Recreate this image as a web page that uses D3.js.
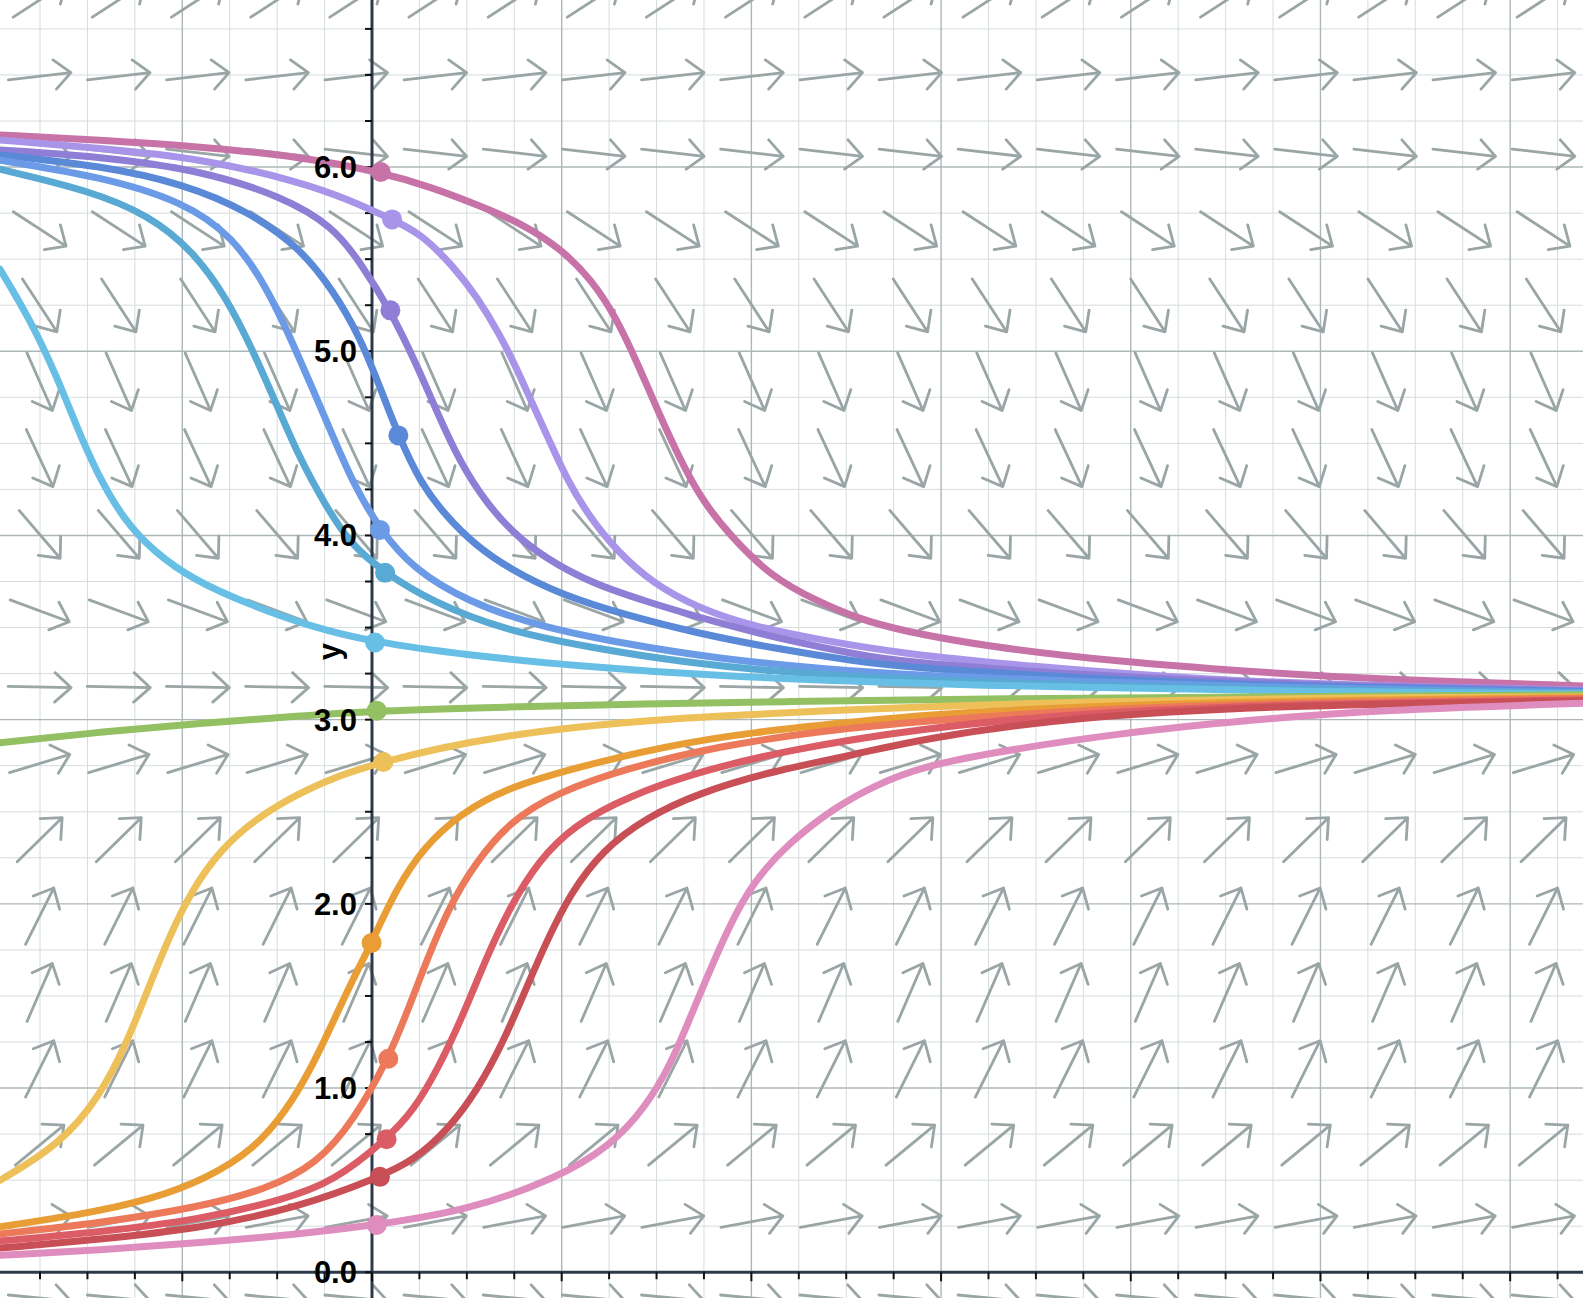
<!DOCTYPE html>
<html><head><meta charset="utf-8">
<script src="https://cdn.jsdelivr.net/npm/d3@7"></script>
<style>html,body{margin:0;padding:0;background:#fff;overflow:hidden}</style>
</head><body>
<svg id="chart" width="1583" height="1298"></svg>
<script>
// ---------- data ----------
const tDomain = [-1.961, 6.384];
const yDomain = [-0.1398, 6.907];
const yTickValues = [0, 1, 2, 3, 4, 5, 6];
const yTickLabels = ["0.0", "1.0", "2.0", "3.0", "4.0", "5.0", "6.0"];
const yAxisLabel = "y";

// slope field grid (data units) and slope per row (dy/dt read from the arrows)
const fieldT = [-1.752, -1.335, -0.918, -0.500, -0.083, 0.334, 0.752, 1.169, 1.586, 2.003,
                2.421, 2.838, 3.255, 3.672, 4.090, 4.507, 4.924, 5.341, 5.758, 6.176];
const fieldY = [6.907, 6.493, 6.078, 5.664, 5.249, 4.835, 4.420, 4.006, 3.591, 3.177,
                2.762, 2.348, 1.933, 1.519, 1.104, 0.690, 0.275, -0.140];
const fieldSlope = [0.67, 0.12, -0.12, -0.67, -1.58, -2.34, -2.21, -1.20, -0.38, -0.02,
                    0.31, 1.01, 2.06, 2.37, 2.06, 0.85, 0.19, -0.10];

// solution curves: [t, y]
const curveMauve = [[-1.961,6.174],[-1.434,6.147],[-0.907,6.111],[-0.380,6.057],[0.046,5.973],[0.313,5.891],[0.558,5.794],[0.784,5.697],[0.991,5.561],[1.160,5.387],[1.292,5.174],[1.405,4.922],[1.518,4.650],[1.631,4.398],[1.744,4.185],[1.895,3.991],[2.102,3.778],[2.347,3.642],[2.573,3.545],[2.783,3.485],[3.243,3.396],[3.932,3.315],[4.620,3.261],[5.309,3.219],[6.384,3.183]];
const curveLavender = [[-1.961,6.147],[-1.434,6.102],[-0.907,6.048],[-0.380,5.921],[-0.116,5.821],[0.106,5.716],[0.257,5.639],[0.426,5.465],[0.558,5.290],[0.671,5.096],[0.765,4.902],[0.840,4.728],[0.935,4.515],[1.029,4.301],[1.142,4.107],[1.292,3.914],[1.481,3.739],[1.726,3.603],[2.008,3.506],[2.385,3.429],[2.783,3.360],[3.472,3.288],[4.391,3.216],[5.309,3.183],[6.384,3.161]];
const curvePurple = [[-1.961,6.093],[-1.434,6.057],[-0.907,5.984],[-0.468,5.839],[-0.204,5.676],[-0.063,5.484],[0.097,5.222],[0.238,4.922],[0.351,4.650],[0.464,4.398],[0.596,4.185],[0.746,4.010],[0.916,3.875],[1.160,3.739],[1.443,3.642],[1.820,3.526],[2.196,3.429],[2.573,3.351],[2.783,3.315],[3.702,3.243],[4.850,3.189],[6.384,3.157]];
const curveBlue = [[-1.961,6.066],[-1.434,6.008],[-0.995,5.910],[-0.643,5.756],[-0.380,5.561],[-0.204,5.329],[-0.063,5.077],[0.042,4.806],[0.139,4.543],[0.257,4.282],[0.389,4.107],[0.539,3.952],[0.727,3.817],[0.991,3.681],[1.349,3.564],[1.726,3.467],[2.102,3.390],[2.573,3.313],[2.783,3.288],[3.702,3.225],[4.850,3.180],[6.384,3.152]];
const curveCornflower = [[-1.961,6.037],[-1.434,5.949],[-0.995,5.814],[-0.731,5.620],[-0.555,5.349],[-0.415,5.038],[-0.309,4.786],[-0.204,4.534],[-0.099,4.282],[0.042,4.030],[0.219,3.817],[0.501,3.642],[0.878,3.506],[1.349,3.409],[1.820,3.332],[2.385,3.274],[2.889,3.240],[3.702,3.207],[4.850,3.171],[6.384,3.147]];
const curveTeal = [[-1.961,5.988],[-1.487,5.872],[-1.170,5.736],[-0.942,5.542],[-0.766,5.290],[-0.626,5.000],[-0.502,4.708],[-0.380,4.417],[-0.257,4.185],[-0.116,3.952],[0.069,3.797],[0.313,3.642],[0.690,3.487],[1.160,3.390],[1.631,3.313],[2.196,3.254],[2.889,3.215],[3.702,3.189],[4.850,3.162],[6.384,3.143]];
const curveSky = [[-1.961,5.445],[-1.803,5.174],[-1.662,4.864],[-1.557,4.592],[-1.451,4.340],[-1.311,4.088],[-1.153,3.914],[-0.942,3.758],[-0.643,3.623],[-0.327,3.506],[0.016,3.419],[0.501,3.351],[1.066,3.293],[1.820,3.235],[2.889,3.195],[3.702,3.176],[4.850,3.153],[6.384,3.140]];
const curveGreen = [[-1.961,2.874],[-1.434,2.933],[-0.907,2.981],[-0.380,3.020],[0.025,3.049],[0.690,3.068],[1.443,3.087],[2.196,3.097],[2.889,3.112],[6.384,3.135]];
const curveYellow = [[-1.961,0.499],[-1.645,0.693],[-1.434,0.955],[-1.293,1.245],[-1.188,1.517],[-1.083,1.788],[-0.959,2.060],[-0.801,2.293],[-0.608,2.467],[-0.380,2.603],[-0.169,2.700],[0.060,2.770],[0.313,2.836],[0.690,2.913],[1.255,2.981],[1.820,3.020],[2.385,3.049],[2.889,3.068],[3.702,3.098],[4.850,3.116],[6.384,3.125]];
const curveOrange = [[-1.961,0.247],[-1.522,0.315],[-1.170,0.393],[-0.871,0.509],[-0.626,0.664],[-0.450,0.877],[-0.309,1.129],[-0.204,1.362],[-0.099,1.594],[-0.002,1.788],[0.125,2.079],[0.276,2.312],[0.464,2.486],[0.690,2.622],[1.066,2.738],[1.537,2.855],[2.008,2.933],[2.573,2.991],[2.889,3.025],[3.702,3.071],[4.850,3.103],[6.384,3.120]];
const curveCoral = [[-1.961,0.208],[-1.434,0.267],[-0.907,0.354],[-0.555,0.451],[-0.292,0.586],[-0.099,0.819],[0.086,1.159],[0.181,1.401],[0.295,1.711],[0.407,1.983],[0.539,2.215],[0.727,2.448],[0.972,2.603],[1.349,2.738],[1.820,2.855],[2.385,2.942],[2.889,2.991],[3.702,3.052],[4.850,3.094],[6.384,3.115]];
const curveRed = [[-1.961,0.169],[-1.434,0.218],[-0.907,0.286],[-0.468,0.393],[-0.204,0.490],[0.077,0.722],[0.219,0.877],[0.351,1.110],[0.483,1.401],[0.596,1.692],[0.727,1.983],[0.878,2.235],[1.066,2.428],[1.349,2.584],[1.726,2.719],[2.196,2.836],[2.889,2.952],[3.702,3.035],[4.850,3.085],[6.384,3.107]];
const curveDarkRed = [[-1.961,0.131],[-1.434,0.179],[-0.907,0.237],[-0.380,0.354],[0.042,0.518],[0.219,0.606],[0.407,0.780],[0.558,0.993],[0.690,1.245],[0.803,1.517],[0.916,1.788],[1.047,2.060],[1.217,2.293],[1.443,2.467],[1.726,2.603],[2.102,2.719],[2.573,2.816],[2.889,2.895],[3.702,3.017],[4.850,3.080],[6.384,3.102]];
const curvePink = [[-1.961,0.092],[-1.434,0.121],[-0.907,0.160],[-0.380,0.208],[0.025,0.257],[0.501,0.334],[0.972,0.509],[1.255,0.683],[1.443,0.897],[1.575,1.129],[1.669,1.362],[1.763,1.594],[1.876,1.866],[2.008,2.118],[2.196,2.331],[2.441,2.525],[2.667,2.651],[2.889,2.740],[3.243,2.818],[3.932,2.926],[4.620,2.998],[5.309,3.053],[6.384,3.089]];

// initial points (dots)
const startT = [0.046, 0.106, 0.097, 0.139, 0.042, 0.069, 0.016, 0.025, 0.060, -0.002, 0.086, 0.077, 0.042, 0.025];
const startY = [5.973, 5.716, 5.222, 4.543, 4.030, 3.797, 3.419, 3.049, 2.770, 1.788, 1.159, 0.722, 0.518, 0.257];

const curveColors = ["#c873a8","#a894e8","#8e7ed6","#5a89d8","#6b9be7","#58a9d4","#68bfe6","#93c062","#edc05a","#e99e35","#ec7a5a","#dc5c66","#c94f56","#df8dbe"];

const curves = [curveMauve, curveLavender, curvePurple, curveBlue, curveCornflower, curveTeal, curveSky,
                curveGreen, curveYellow, curveOrange, curveCoral, curveRed, curveDarkRed, curvePink];

// ---------- drawing ----------
const W = 1583, H = 1298;
const svg = d3.select("#chart");
const x = d3.scaleLinear().domain(tDomain).range([0, W]);
const y = d3.scaleLinear().domain(yDomain).range([H, 0]);

svg.append("rect").attr("width", W).attr("height", H).attr("fill", "#fff");

// grid
const minorT = d3.range(Math.ceil(tDomain[0]*4), Math.floor(tDomain[1]*4)+1).map(k => k/4);
const minorY = d3.range(Math.ceil(yDomain[0]*4), Math.floor(yDomain[1]*4)+1).map(k => k/4);
const isMajor = v => Math.abs(v - Math.round(v)) < 1e-9;

const grid = svg.append("g");
grid.selectAll("line.vx").data(minorT.filter(v => !isMajor(v))).join("line")
  .attr("x1", d => x(d)).attr("x2", d => x(d)).attr("y1", 0).attr("y2", H)
  .attr("stroke", "#d6dcdc").attr("stroke-width", 1);
grid.selectAll("line.hy").data(minorY.filter(v => !isMajor(v))).join("line")
  .attr("y1", d => y(d)).attr("y2", d => y(d)).attr("x1", 0).attr("x2", W)
  .attr("stroke", "#d6dcdc").attr("stroke-width", 1);
grid.selectAll("line.vmx").data(minorT.filter(isMajor)).join("line")
  .attr("x1", d => x(d)).attr("x2", d => x(d)).attr("y1", 0).attr("y2", H)
  .attr("stroke", "#aeb7b7").attr("stroke-width", 1.4);
grid.selectAll("line.hmy").data(minorY.filter(isMajor)).join("line")
  .attr("y1", d => y(d)).attr("y2", d => y(d)).attr("x1", 0).attr("x2", W)
  .attr("stroke", "#aeb7b7").attr("stroke-width", 1.4);

// slope field
const L = 63, headLen = 22, headAng = 42 * Math.PI / 180;
const kx = x(1) - x(0), ky = y(0) - y(1);
const field = svg.append("g").attr("stroke", "#9aa5a5").attr("stroke-width", 2.8)
  .attr("stroke-linecap", "round").attr("stroke-linejoin", "round").attr("fill", "none");
const cells = [];
fieldY.forEach((yy, j) => fieldT.forEach(tt => cells.push({t: tt, y: yy, s: fieldSlope[j]})));
field.selectAll("path").data(cells).join("path").attr("d", d => {
  const cx = x(d.t), cy = y(d.y);
  let ux = kx, uy = -d.s * ky;
  const n = Math.hypot(ux, uy); ux /= n; uy /= n;
  const x0 = cx - ux*L/2, y0 = cy - uy*L/2, x1 = cx + ux*L/2, y1 = cy + uy*L/2;
  const a = Math.atan2(-uy, -ux);
  const w1x = x1 + headLen*Math.cos(a + headAng), w1y = y1 + headLen*Math.sin(a + headAng);
  const w2x = x1 + headLen*Math.cos(a - headAng), w2y = y1 + headLen*Math.sin(a - headAng);
  return `M${x0},${y0}L${x1},${y1}M${w1x},${w1y}L${x1},${y1}L${w2x},${w2y}`;
});

// axes
const axisColor = "#2c3a4b";
const axes = svg.append("g");
axes.append("line").attr("x1", x(0)).attr("x2", x(0)).attr("y1", 0).attr("y2", H)
  .attr("stroke", axisColor).attr("stroke-width", 3);
axes.append("line").attr("x1", 0).attr("x2", W).attr("y1", y(0)).attr("y2", y(0))
  .attr("stroke", axisColor).attr("stroke-width", 3);
axes.selectAll("line.xt").data(minorT).join("line")
  .attr("x1", d => x(d)).attr("x2", d => x(d)).attr("y1", y(0)).attr("y2", d => y(0) + (isMajor(d) ? 9 : 7))
  .attr("stroke", "#111").attr("stroke-width", 2);
axes.selectAll("line.yt").data(minorY.filter(v => v >= 0)).join("line")
  .attr("y1", d => y(d)).attr("y2", d => y(d)).attr("x1", x(0)).attr("x2", x(0) - 7)
  .attr("stroke", "#111").attr("stroke-width", 2);

// curves
const line = d3.line().x(d => x(d[0])).y(d => y(d[1])).curve(d3.curveBasis);
svg.append("g").selectAll("path").data(curves).join("path")
  .attr("d", line).attr("fill", "none")
  .attr("stroke", (d, i) => curveColors[i]).attr("stroke-width", 7)
  .attr("stroke-linecap", "round").attr("stroke-linejoin", "round");

svg.append("g").selectAll("circle").data(startT).join("circle")
  .attr("cx", d => x(d)).attr("cy", (d, i) => y(startY[i])).attr("r", 10)
  .attr("fill", (d, i) => curveColors[i]);

// labels
const font = "'Liberation Sans', Arial, Helvetica, sans-serif";
svg.append("g").selectAll("text").data(yTickValues).join("text")
  .attr("x", x(0) - 15).attr("y", d => y(d) + 11)
  .attr("text-anchor", "end").attr("font-family", font).attr("font-weight", "bold")
  .attr("font-size", 31).attr("fill", "#000").text((d, i) => yTickLabels[i]);

svg.append("text").attr("transform", `translate(${x(0) - 32},${y(3.37)}) rotate(-90)`)
  .attr("text-anchor", "middle").attr("font-family", font).attr("font-weight", "bold")
  .attr("font-size", 31).attr("fill", "#000").text(yAxisLabel);
</script>
</body></html>
